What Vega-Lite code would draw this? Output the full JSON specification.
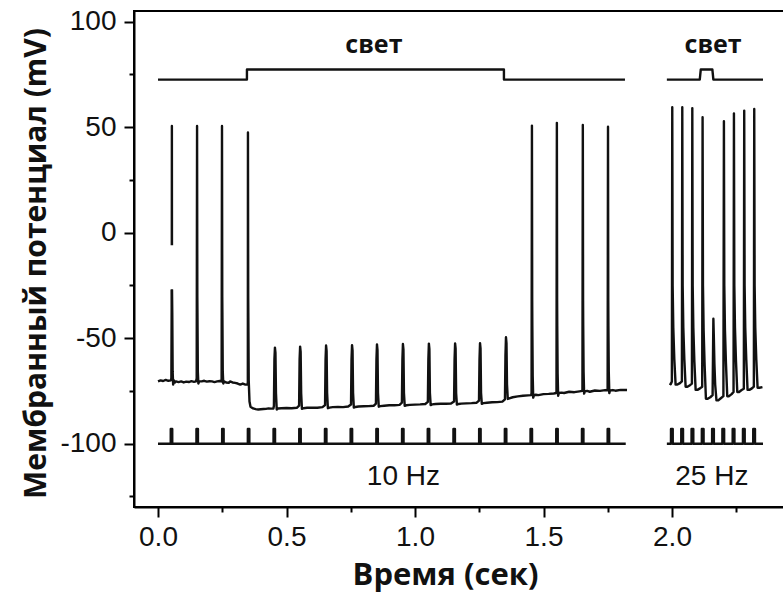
{
  "$schema": "https://vega.github.io/schema/vega-lite/v6.json",
  "width": 650,
  "height": 496,
  "autosize": "none",
  "padding": {"left": 134, "top": 11, "right": 0, "bottom": 87},
  "background": "white",
  "config": {
    "view": {"stroke": "black", "strokeWidth": 2},
    "axis": {
      "domainColor": "black", "domainWidth": 2, "tickColor": "black", "tickWidth": 2,
      "labelFont": "Liberation Sans", "labelFontSize": 28, "labelColor": "#111",
      "titleFont": "Open Sans", "titleFontSize": 30, "titleFontWeight": "bold", "titleColor": "#111",
      "grid": false, "labelOverlap": false, "labelFlush": false
    }
  },
  "datasets": {
    "traces": [
      {"g":"a1","t":0.0,"v":-70.5},{"g":"a1","t":0.01,"v":-70},{"g":"a1","t":0.02,"v":-70.3},{"g":"a1","t":0.03,"v":-69.8},{"g":"a1","t":0.04,"v":-70.2},{"g":"a1","t":0.05,"v":-70},{"g":"a1","t":0.052,"v":-69},{"g":"a1","t":0.0535,"v":-27},
      {"g":"a2","t":0.0537,"v":-6},{"g":"a2","t":0.054,"v":50.5},{"g":"a2","t":0.0543,"v":-6},
      {"g":"a3","t":0.0545,"v":-27},{"g":"a3","t":0.0555,"v":-38},{"g":"a3","t":0.057,"v":-66},{"g":"a3","t":0.059,"v":-72},{"g":"a3","t":0.062,"v":-70},{"g":"a3","t":0.066,"v":-71},{"g":"a3","t":0.07,"v":-70.5},{"g":"a3","t":0.08,"v":-70.8},{"g":"a3","t":0.09,"v":-70.5},{"g":"a3","t":0.1,"v":-71},{"g":"a3","t":0.11,"v":-70.6},{"g":"a3","t":0.12,"v":-70.8},{"g":"a3","t":0.13,"v":-70.4},{"g":"a3","t":0.14,"v":-70.7},{"g":"a3","t":0.148,"v":-70.5},
      {"g":"a3","t":0.1505,"v":-69},{"g":"a3","t":0.152,"v":50.5},{"g":"a3","t":0.153,"v":-30},{"g":"a3","t":0.1535,"v":-38},{"g":"a3","t":0.155,"v":-66},{"g":"a3","t":0.157,"v":-71.5},{"g":"a3","t":0.16,"v":-70.5},{"g":"a3","t":0.17,"v":-70.5},{"g":"a3","t":0.18,"v":-70.2},{"g":"a3","t":0.19,"v":-70.6},{"g":"a3","t":0.2,"v":-70.4},{"g":"a3","t":0.21,"v":-70.5},{"g":"a3","t":0.22,"v":-70.8},{"g":"a3","t":0.23,"v":-70.5},{"g":"a3","t":0.24,"v":-70.3},{"g":"a3","t":0.247,"v":-70.5},
      {"g":"a3","t":0.2475,"v":-69},{"g":"a3","t":0.249,"v":50.5},{"g":"a3","t":0.25,"v":-30},{"g":"a3","t":0.2505,"v":-38},{"g":"a3","t":0.252,"v":-66},{"g":"a3","t":0.254,"v":-71.5},{"g":"a3","t":0.257,"v":-70.5},{"g":"a3","t":0.265,"v":-71},{"g":"a3","t":0.275,"v":-71.2},{"g":"a3","t":0.28,"v":-70.5},{"g":"a3","t":0.29,"v":-71},{"g":"a3","t":0.3,"v":-71.2},{"g":"a3","t":0.31,"v":-71.5},{"g":"a3","t":0.32,"v":-72},{"g":"a3","t":0.33,"v":-71.5},{"g":"a3","t":0.34,"v":-72},{"g":"a3","t":0.348,"v":-72},
      {"g":"a3","t":0.3495,"v":-71},{"g":"a3","t":0.35,"v":47.4},{"g":"a3","t":0.351,"v":-30},{"g":"a3","t":0.3515,"v":-40},{"g":"a3","t":0.353,"v":-70},{"g":"a3","t":0.356,"v":-80},{"g":"a3","t":0.36,"v":-82.5},{"g":"a3","t":0.37,"v":-83.3},{"g":"a3","t":0.38,"v":-83.6},{"g":"a3","t":0.39,"v":-83.8},{"g":"a3","t":0.4,"v":-83.7},{"g":"a3","t":0.41,"v":-83.6},{"g":"a3","t":0.42,"v":-83.5},{"g":"a3","t":0.43,"v":-83.3},{"g":"a3","t":0.44,"v":-83.4},{"g":"a3","t":0.449,"v":-83.3},
      {"g":"a3","t":0.451,"v":-82},{"g":"a3","t":0.453,"v":-60},{"g":"a3","t":0.455,"v":-54.5},{"g":"a3","t":0.457,"v":-57},{"g":"a3","t":0.459,"v":-76},{"g":"a3","t":0.462,"v":-83.8},{"g":"a3","t":0.467,"v":-83.3},{"g":"a3","t":0.48,"v":-83.2},{"g":"a3","t":0.5,"v":-83.1},{"g":"a3","t":0.52,"v":-83.2},{"g":"a3","t":0.54,"v":-83},
      {"g":"a3","t":0.549,"v":-82},{"g":"a3","t":0.551,"v":-60},{"g":"a3","t":0.553,"v":-54},{"g":"a3","t":0.555,"v":-56.5},{"g":"a3","t":0.557,"v":-76},{"g":"a3","t":0.56,"v":-83.5},{"g":"a3","t":0.566,"v":-83.2},{"g":"a3","t":0.58,"v":-83},{"g":"a3","t":0.6,"v":-82.9},{"g":"a3","t":0.62,"v":-83},{"g":"a3","t":0.64,"v":-82.7},
      {"g":"a3","t":0.65,"v":-81.7},{"g":"a3","t":0.652,"v":-60},{"g":"a3","t":0.654,"v":-53.5},{"g":"a3","t":0.656,"v":-56},{"g":"a3","t":0.658,"v":-76},{"g":"a3","t":0.661,"v":-83.2},{"g":"a3","t":0.667,"v":-82.9},{"g":"a3","t":0.68,"v":-82.7},{"g":"a3","t":0.7,"v":-82.6},{"g":"a3","t":0.72,"v":-82.7},{"g":"a3","t":0.74,"v":-82.4},
      {"g":"a3","t":0.751,"v":-81.4},{"g":"a3","t":0.753,"v":-60},{"g":"a3","t":0.755,"v":-53.3},{"g":"a3","t":0.757,"v":-55.8},{"g":"a3","t":0.759,"v":-76},{"g":"a3","t":0.762,"v":-82.9},{"g":"a3","t":0.768,"v":-82.6},{"g":"a3","t":0.78,"v":-82.4},{"g":"a3","t":0.8,"v":-82.3},{"g":"a3","t":0.82,"v":-82.2},{"g":"a3","t":0.84,"v":-82},
      {"g":"a3","t":0.848,"v":-81},{"g":"a3","t":0.85,"v":-60},{"g":"a3","t":0.852,"v":-53},{"g":"a3","t":0.854,"v":-55.5},{"g":"a3","t":0.856,"v":-76},{"g":"a3","t":0.859,"v":-82.5},{"g":"a3","t":0.865,"v":-82.2},{"g":"a3","t":0.88,"v":-82},{"g":"a3","t":0.9,"v":-81.8},{"g":"a3","t":0.92,"v":-81.8},{"g":"a3","t":0.94,"v":-81.6},
      {"g":"a3","t":0.949,"v":-80.6},{"g":"a3","t":0.951,"v":-60},{"g":"a3","t":0.953,"v":-52.8},{"g":"a3","t":0.955,"v":-55.3},{"g":"a3","t":0.957,"v":-76},{"g":"a3","t":0.96,"v":-82.1},{"g":"a3","t":0.966,"v":-81.8},{"g":"a3","t":0.98,"v":-81.6},{"g":"a3","t":1.0,"v":-81.5},{"g":"a3","t":1.02,"v":-81.4},{"g":"a3","t":1.04,"v":-81.2},
      {"g":"a3","t":1.05,"v":-80.2},{"g":"a3","t":1.052,"v":-60},{"g":"a3","t":1.054,"v":-52.6},{"g":"a3","t":1.056,"v":-55.1},{"g":"a3","t":1.058,"v":-76},{"g":"a3","t":1.061,"v":-81.7},{"g":"a3","t":1.067,"v":-81.4},{"g":"a3","t":1.08,"v":-81.2},{"g":"a3","t":1.1,"v":-81.1},{"g":"a3","t":1.12,"v":-81.1},{"g":"a3","t":1.14,"v":-81},
      {"g":"a3","t":1.152,"v":-80},{"g":"a3","t":1.154,"v":-60},{"g":"a3","t":1.156,"v":-52.5},{"g":"a3","t":1.158,"v":-55},{"g":"a3","t":1.16,"v":-76},{"g":"a3","t":1.163,"v":-81.5},{"g":"a3","t":1.169,"v":-81.2},{"g":"a3","t":1.18,"v":-81},{"g":"a3","t":1.2,"v":-80.9},{"g":"a3","t":1.22,"v":-80.8},{"g":"a3","t":1.24,"v":-80.6},
      {"g":"a3","t":1.249,"v":-79.6},{"g":"a3","t":1.251,"v":-60},{"g":"a3","t":1.253,"v":-52.4},{"g":"a3","t":1.255,"v":-54.9},{"g":"a3","t":1.257,"v":-76},{"g":"a3","t":1.26,"v":-81.1},{"g":"a3","t":1.266,"v":-80.8},{"g":"a3","t":1.28,"v":-80.6},{"g":"a3","t":1.3,"v":-80.4},{"g":"a3","t":1.32,"v":-80.3},{"g":"a3","t":1.34,"v":-80.1},
      {"g":"a3","t":1.35,"v":-79},{"g":"a3","t":1.352,"v":-58},{"g":"a3","t":1.354,"v":-49.6},{"g":"a3","t":1.356,"v":-52.5},{"g":"a3","t":1.358,"v":-72},{"g":"a3","t":1.361,"v":-78.8},{"g":"a3","t":1.367,"v":-78.5},{"g":"a3","t":1.38,"v":-78},{"g":"a3","t":1.4,"v":-77.6},{"g":"a3","t":1.42,"v":-77.3},{"g":"a3","t":1.44,"v":-77.1},{"g":"a3","t":1.452,"v":-77},
      {"g":"a3","t":1.4535,"v":-76},{"g":"a3","t":1.455,"v":50.7},{"g":"a3","t":1.456,"v":-32},{"g":"a3","t":1.4565,"v":-44},{"g":"a3","t":1.458,"v":-68},{"g":"a3","t":1.46,"v":-78.2},{"g":"a3","t":1.463,"v":-77},{"g":"a3","t":1.47,"v":-76.8},{"g":"a3","t":1.48,"v":-77},{"g":"a3","t":1.5,"v":-76.5},{"g":"a3","t":1.52,"v":-76.4},{"g":"a3","t":1.54,"v":-76.2},{"g":"a3","t":1.55,"v":-76},
      {"g":"a3","t":1.5505,"v":-75},{"g":"a3","t":1.552,"v":52},{"g":"a3","t":1.553,"v":-32},{"g":"a3","t":1.5535,"v":-44},{"g":"a3","t":1.555,"v":-67},{"g":"a3","t":1.557,"v":-77.3},{"g":"a3","t":1.56,"v":-76},{"g":"a3","t":1.57,"v":-75.8},{"g":"a3","t":1.58,"v":-76},{"g":"a3","t":1.6,"v":-75.4},{"g":"a3","t":1.62,"v":-75.6},{"g":"a3","t":1.64,"v":-75.2},{"g":"a3","t":1.651,"v":-75},
      {"g":"a3","t":1.6515,"v":-74},{"g":"a3","t":1.653,"v":51},{"g":"a3","t":1.654,"v":-32},{"g":"a3","t":1.6545,"v":-44},{"g":"a3","t":1.656,"v":-66},{"g":"a3","t":1.658,"v":-76.3},{"g":"a3","t":1.661,"v":-75.2},{"g":"a3","t":1.67,"v":-75},{"g":"a3","t":1.68,"v":-75.4},{"g":"a3","t":1.7,"v":-74.8},{"g":"a3","t":1.72,"v":-75},{"g":"a3","t":1.74,"v":-74.6},{"g":"a3","t":1.749,"v":-74.7},
      {"g":"a3","t":1.7495,"v":-73.7},{"g":"a3","t":1.751,"v":50.2},{"g":"a3","t":1.752,"v":-32},{"g":"a3","t":1.7525,"v":-44},{"g":"a3","t":1.754,"v":-66},{"g":"a3","t":1.756,"v":-76},{"g":"a3","t":1.759,"v":-74.8},{"g":"a3","t":1.77,"v":-74.6},{"g":"a3","t":1.78,"v":-74.9},{"g":"a3","t":1.8,"v":-74.5},{"g":"a3","t":1.825,"v":-74.6},

      {"g":"b","t":1.99,"v":-71.5},{"g":"b","t":1.995,"v":-71.8},
      {"g":"b","t":1.9995,"v":-70.5},{"g":"b","t":2.001,"v":59.4},{"g":"b","t":2.0025,"v":-25},{"g":"b","t":2.005,"v":-45},{"g":"b","t":2.009,"v":-60},{"g":"b","t":2.014,"v":-72},{"g":"b","t":2.021,"v":-72},{"g":"b","t":2.031,"v":-71.3},{"g":"b","t":2.0385,"v":-70.5},
      {"g":"b","t":2.04,"v":59.4},{"g":"b","t":2.0415,"v":-25},{"g":"b","t":2.044,"v":-45},{"g":"b","t":2.048,"v":-60},{"g":"b","t":2.053,"v":-73},{"g":"b","t":2.06,"v":-73},{"g":"b","t":2.07,"v":-72.3},{"g":"b","t":2.0775,"v":-71.5},
      {"g":"b","t":2.079,"v":59},{"g":"b","t":2.0805,"v":-25},{"g":"b","t":2.083,"v":-45},{"g":"b","t":2.087,"v":-61},{"g":"b","t":2.092,"v":-74.5},{"g":"b","t":2.099,"v":-74.5},{"g":"b","t":2.109,"v":-73.8},{"g":"b","t":2.1175,"v":-73},
      {"g":"b","t":2.119,"v":54.7},{"g":"b","t":2.1205,"v":-25},{"g":"b","t":2.123,"v":-46},{"g":"b","t":2.127,"v":-63},{"g":"b","t":2.132,"v":-78.7},{"g":"b","t":2.139,"v":-78.7},{"g":"b","t":2.149,"v":-78},{"g":"b","t":2.158,"v":-77},
      {"g":"b","t":2.161,"v":-40.8},{"g":"b","t":2.1625,"v":-48},{"g":"b","t":2.165,"v":-62},{"g":"b","t":2.168,"v":-72},{"g":"b","t":2.173,"v":-79.5},{"g":"b","t":2.18,"v":-79.5},{"g":"b","t":2.19,"v":-78.5},{"g":"b","t":2.2,"v":-77.5},
      {"g":"b","t":2.202,"v":52.8},{"g":"b","t":2.2035,"v":-25},{"g":"b","t":2.206,"v":-46},{"g":"b","t":2.21,"v":-62},{"g":"b","t":2.215,"v":-77.5},{"g":"b","t":2.222,"v":-77.5},{"g":"b","t":2.232,"v":-76.5},{"g":"b","t":2.2395,"v":-75.5},
      {"g":"b","t":2.241,"v":56.5},{"g":"b","t":2.2425,"v":-25},{"g":"b","t":2.245,"v":-45},{"g":"b","t":2.249,"v":-61},{"g":"b","t":2.254,"v":-75.5},{"g":"b","t":2.261,"v":-75.5},{"g":"b","t":2.271,"v":-74.6},{"g":"b","t":2.2795,"v":-74},
      {"g":"b","t":2.281,"v":57.8},{"g":"b","t":2.2825,"v":-25},{"g":"b","t":2.285,"v":-45},{"g":"b","t":2.289,"v":-60},{"g":"b","t":2.294,"v":-74.5},{"g":"b","t":2.301,"v":-74.5},{"g":"b","t":2.311,"v":-73.8},{"g":"b","t":2.3185,"v":-73},
      {"g":"b","t":2.32,"v":58.6},{"g":"b","t":2.3215,"v":-25},{"g":"b","t":2.324,"v":-45},{"g":"b","t":2.328,"v":-60},{"g":"b","t":2.333,"v":-73.5},{"g":"b","t":2.34,"v":-73.5},{"g":"b","t":2.352,"v":-73.2},

      {"g":"L1","t":0.0,"v":72.5},{"g":"L1","t":0.346,"v":72.5},{"g":"L1","t":0.3461,"v":77.3},{"g":"L1","t":1.346,"v":77.3},{"g":"L1","t":1.3461,"v":72.5},{"g":"L1","t":1.817,"v":72.5},
      {"g":"L2","t":1.98,"v":72.5},{"g":"L2","t":2.108,"v":72.5},{"g":"L2","t":2.112,"v":77.3},{"g":"L2","t":2.157,"v":77.3},{"g":"L2","t":2.161,"v":72.5},{"g":"L2","t":2.354,"v":72.5},

      {"g":"S1","t":0.0,"v":-100},
      {"g":"S1","t":0.0495,"v":-100},{"g":"S1","t":0.0496,"v":-93},{"g":"S1","t":0.0554,"v":-93},{"g":"S1","t":0.0555,"v":-100},
      {"g":"S1","t":0.1495,"v":-100},{"g":"S1","t":0.1496,"v":-93},{"g":"S1","t":0.1554,"v":-93},{"g":"S1","t":0.1555,"v":-100},
      {"g":"S1","t":0.2495,"v":-100},{"g":"S1","t":0.2496,"v":-93},{"g":"S1","t":0.2554,"v":-93},{"g":"S1","t":0.2555,"v":-100},
      {"g":"S1","t":0.3495,"v":-100},{"g":"S1","t":0.3496,"v":-93},{"g":"S1","t":0.3554,"v":-93},{"g":"S1","t":0.3555,"v":-100},
      {"g":"S1","t":0.4495,"v":-100},{"g":"S1","t":0.4496,"v":-93},{"g":"S1","t":0.4554,"v":-93},{"g":"S1","t":0.4555,"v":-100},
      {"g":"S1","t":0.5495,"v":-100},{"g":"S1","t":0.5496,"v":-93},{"g":"S1","t":0.5554,"v":-93},{"g":"S1","t":0.5555,"v":-100},
      {"g":"S1","t":0.6495,"v":-100},{"g":"S1","t":0.6496,"v":-93},{"g":"S1","t":0.6554,"v":-93},{"g":"S1","t":0.6555,"v":-100},
      {"g":"S1","t":0.7495,"v":-100},{"g":"S1","t":0.7496,"v":-93},{"g":"S1","t":0.7554,"v":-93},{"g":"S1","t":0.7555,"v":-100},
      {"g":"S1","t":0.8495,"v":-100},{"g":"S1","t":0.8496,"v":-93},{"g":"S1","t":0.8554,"v":-93},{"g":"S1","t":0.8555,"v":-100},
      {"g":"S1","t":0.9495,"v":-100},{"g":"S1","t":0.9496,"v":-93},{"g":"S1","t":0.9554,"v":-93},{"g":"S1","t":0.9555,"v":-100},
      {"g":"S1","t":1.0495,"v":-100},{"g":"S1","t":1.0496,"v":-93},{"g":"S1","t":1.0554,"v":-93},{"g":"S1","t":1.0555,"v":-100},
      {"g":"S1","t":1.1495,"v":-100},{"g":"S1","t":1.1496,"v":-93},{"g":"S1","t":1.1554,"v":-93},{"g":"S1","t":1.1555,"v":-100},
      {"g":"S1","t":1.2495,"v":-100},{"g":"S1","t":1.2496,"v":-93},{"g":"S1","t":1.2554,"v":-93},{"g":"S1","t":1.2555,"v":-100},
      {"g":"S1","t":1.3495,"v":-100},{"g":"S1","t":1.3496,"v":-93},{"g":"S1","t":1.3554,"v":-93},{"g":"S1","t":1.3555,"v":-100},
      {"g":"S1","t":1.4495,"v":-100},{"g":"S1","t":1.4496,"v":-93},{"g":"S1","t":1.4554,"v":-93},{"g":"S1","t":1.4555,"v":-100},
      {"g":"S1","t":1.5495,"v":-100},{"g":"S1","t":1.5496,"v":-93},{"g":"S1","t":1.5554,"v":-93},{"g":"S1","t":1.5555,"v":-100},
      {"g":"S1","t":1.6495,"v":-100},{"g":"S1","t":1.6496,"v":-93},{"g":"S1","t":1.6554,"v":-93},{"g":"S1","t":1.6555,"v":-100},
      {"g":"S1","t":1.7495,"v":-100},{"g":"S1","t":1.7496,"v":-93},{"g":"S1","t":1.7554,"v":-93},{"g":"S1","t":1.7555,"v":-100},
      {"g":"S1","t":1.82,"v":-100},

      {"g":"S2","t":1.98,"v":-100},
      {"g":"S2","t":1.996,"v":-100},{"g":"S2","t":1.9961,"v":-93},{"g":"S2","t":2.0029,"v":-93},{"g":"S2","t":2.003,"v":-100},
      {"g":"S2","t":2.036,"v":-100},{"g":"S2","t":2.0361,"v":-93},{"g":"S2","t":2.0429,"v":-93},{"g":"S2","t":2.043,"v":-100},
      {"g":"S2","t":2.076,"v":-100},{"g":"S2","t":2.0761,"v":-93},{"g":"S2","t":2.0829,"v":-93},{"g":"S2","t":2.083,"v":-100},
      {"g":"S2","t":2.116,"v":-100},{"g":"S2","t":2.1161,"v":-93},{"g":"S2","t":2.1229,"v":-93},{"g":"S2","t":2.123,"v":-100},
      {"g":"S2","t":2.156,"v":-100},{"g":"S2","t":2.1561,"v":-93},{"g":"S2","t":2.1629,"v":-93},{"g":"S2","t":2.163,"v":-100},
      {"g":"S2","t":2.196,"v":-100},{"g":"S2","t":2.1961,"v":-93},{"g":"S2","t":2.2029,"v":-93},{"g":"S2","t":2.203,"v":-100},
      {"g":"S2","t":2.236,"v":-100},{"g":"S2","t":2.2361,"v":-93},{"g":"S2","t":2.2429,"v":-93},{"g":"S2","t":2.243,"v":-100},
      {"g":"S2","t":2.276,"v":-100},{"g":"S2","t":2.2761,"v":-93},{"g":"S2","t":2.2829,"v":-93},{"g":"S2","t":2.283,"v":-100},
      {"g":"S2","t":2.316,"v":-100},{"g":"S2","t":2.3161,"v":-93},{"g":"S2","t":2.3229,"v":-93},{"g":"S2","t":2.323,"v":-100},
      {"g":"S2","t":2.354,"v":-100}
    ],
    "light_labels": [
      {"t": 0.84, "v": 89, "text": "свет"},
      {"t": 2.16, "v": 89, "text": "свет"}
    ],
    "freq_labels": [
      {"t": 0.955, "v": -116, "text": "10 Hz"},
      {"t": 2.155, "v": -116, "text": "25 Hz"}
    ]
  },
  "layer": [
    {
      "data": {"name": "traces"},
      "mark": {"type": "line", "color": "#111", "strokeWidth": 2.4, "strokeJoin": "round", "clip": true},
      "encoding": {
        "x": {
          "field": "t", "type": "quantitative",
          "scale": {"domain": [-0.0934, 2.4358], "nice": false, "zero": false},
          "axis": {
            "values": [0, 0.25, 0.5, 0.75, 1, 1.25, 1.5, 1.75, 2, 2.25],
            "labelExpr": "datum.value % 0.5 === 0 ? format(datum.value, '.1f') : ''",
            "tickSize": {"condition": {"test": "datum.value % 0.5 === 0", "value": 10}, "value": 5},
            "labelPadding": 6,
            "title": "Время (сек)",
            "titleFontSize": 31,
            "titleX": 311, "titleY": 77, "titleBaseline": "alphabetic", "titleAnchor": "middle", "titleAlign": "center"
          }
        },
        "y": {
          "field": "v", "type": "quantitative",
          "scale": {"domain": [-130, 105], "nice": false, "zero": false},
          "axis": {
            "values": [-125, -100, -75, -50, -25, 0, 25, 50, 75, 100],
            "labelExpr": "datum.value % 50 === 0 ? ('' + datum.value) : ''",
            "tickSize": {"condition": {"test": "datum.value % 50 === 0", "value": 10}, "value": 5},
            "labelPadding": 8,
            "title": "Мембранный потенциал (mV)",
            "titleX": -89, "titleY": 252, "titleBaseline": "alphabetic", "titleAngle": -90, "titleAlign": "center"
          }
        },
        "detail": {"field": "g", "type": "nominal"},
        "order": {"value": null}
      }
    },
    {
      "data": {"name": "light_labels"},
      "mark": {"type": "text", "font": "Open Sans", "fontSize": 25, "fontWeight": "bold", "color": "#111", "baseline": "middle", "align": "center"},
      "encoding": {
        "x": {"field": "t", "type": "quantitative"},
        "y": {"field": "v", "type": "quantitative"},
        "text": {"field": "text"}
      }
    },
    {
      "data": {"name": "freq_labels"},
      "mark": {"type": "text", "font": "Liberation Sans", "fontSize": 28, "color": "#111", "baseline": "middle", "align": "center"},
      "encoding": {
        "x": {"field": "t", "type": "quantitative"},
        "y": {"field": "v", "type": "quantitative"},
        "text": {"field": "text"}
      }
    }
  ]
}
